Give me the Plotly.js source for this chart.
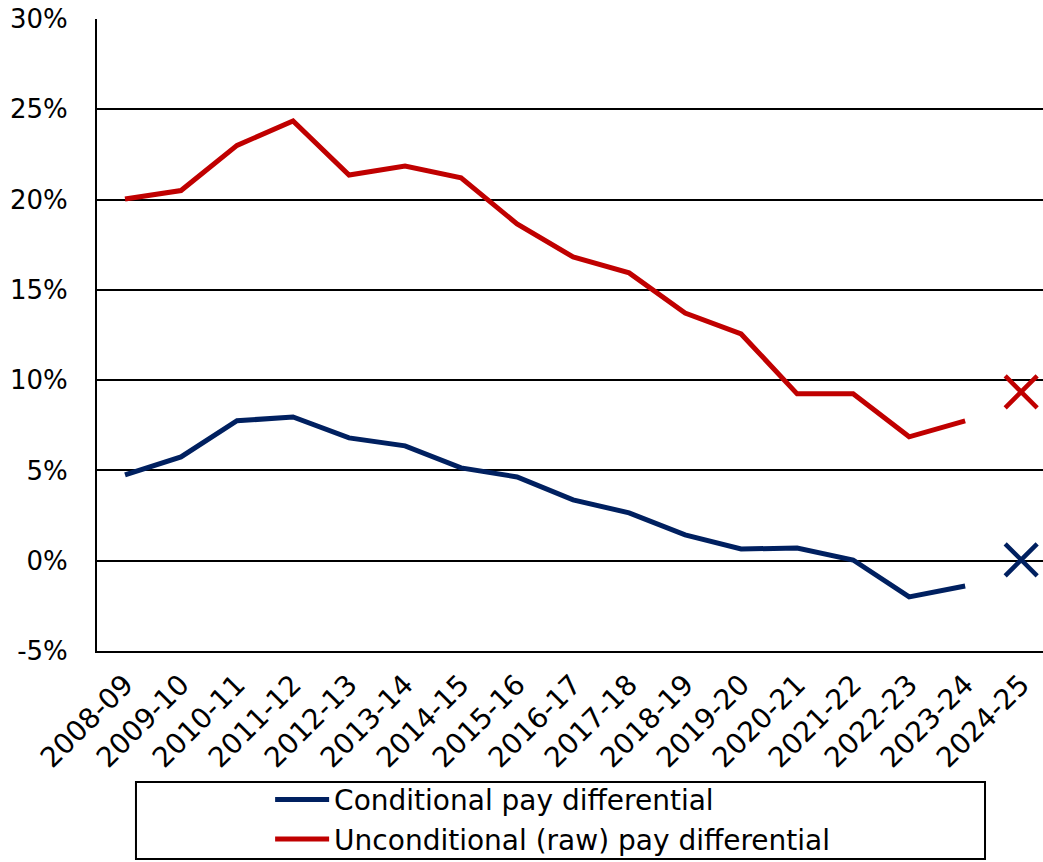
<!DOCTYPE html>
<html>
<head>
<meta charset="utf-8">
<script src="https://cdn.plot.ly/plotly-3.0.1.min.js"></script>
<style>html,body{margin:0;padding:0;background:#fff;}#chart{width:1043px;height:862px;}</style>
</head>
<body>
<div id="chart"></div>
<script>
const years = ["2008-09","2009-10","2010-11","2011-12","2012-13","2013-14","2014-15","2015-16","2016-17","2017-18","2018-19","2019-20","2020-21","2021-22","2022-23","2023-24","2024-25"];
const lineYears = years.slice(0, 16);
const conditional = [4.75, 5.75, 7.75, 7.96, 6.8, 6.36, 5.14, 4.64, 3.37, 2.65, 1.43, 0.65, 0.7, 0.04, -2.0, -1.4];
const unconditional = [20.03, 20.5, 23.0, 24.35, 21.36, 21.86, 21.2, 18.65, 16.82, 15.94, 13.72, 12.56, 9.24, 9.25, 6.86, 7.74];
const markerYear = ["2024-25"];
const conditionalLatest = [0.05];
const unconditionalLatest = [9.35];
const yTicks = [-5, 0, 5, 10, 15, 20, 25, 30];
const yTickText = yTicks.map(v => v + "%");

const blue = "#002060", red = "#C00000";
const font = "DejaVu Sans, sans-serif";

const traces = [
  {x: lineYears, y: conditional, type: "scatter", mode: "lines", name: "Conditional pay differential",
   line: {color: blue, width: 5}},
  {x: lineYears, y: unconditional, type: "scatter", mode: "lines", name: "Unconditional (raw) pay differential",
   line: {color: red, width: 5}},
  {x: markerYear, y: conditionalLatest, type: "scatter", mode: "markers", showlegend: false,
   marker: {symbol: "x-thin", size: 32, line: {color: blue, width: 4.5}}},
  {x: markerYear, y: unconditionalLatest, type: "scatter", mode: "markers", showlegend: false,
   marker: {symbol: "x-thin", size: 32, line: {color: red, width: 4.5}}}
];

const layout = {
  width: 1043, height: 862,
  margin: {l: 97, r: 0, t: 19, b: 211, autoexpand: false},
  paper_bgcolor: "#fff", plot_bgcolor: "#fff",
  font: {family: font, size: 25, color: "#000"},
  showlegend: true,
  xaxis: {type: "category", categoryorder: "array", categoryarray: years, range: [-0.5, 16.39],
    tickangle: -45, showgrid: false, showline: true, linecolor: "#000", linewidth: 2,
    ticks: "", tickfont: {size: 28}, zeroline: false, automargin: false, ticklabelstandoff: 4},
  yaxis: {range: [-5, 30], tickvals: yTicks, ticktext: yTickText, showgrid: true, gridcolor: "#000", gridwidth: 2,
    showline: true, linecolor: "#000", linewidth: 2, zeroline: false, ticks: "", tickfont: {size: 26},
    automargin: false, ticklabelstandoff: 22},
  legend: {x: 0.183, xanchor: "left", y: -0.196, yanchor: "top", orientation: "v",
    bgcolor: "rgba(0,0,0,0)", borderwidth: 0, font: {size: 28}, itemwidth: 54, tracegroupgap: 0},
  shapes: [{type: "rect", xref: "paper", yref: "paper", x0: 0.0412, x1: 0.9387, y0: -0.2073, y1: -0.329,
    line: {color: "#000", width: 2}, fillcolor: "rgba(0,0,0,0)"}]
};

Plotly.newPlot("chart", traces, layout, {displayModeBar: false, staticPlot: true});
</script>
</body>
</html>
